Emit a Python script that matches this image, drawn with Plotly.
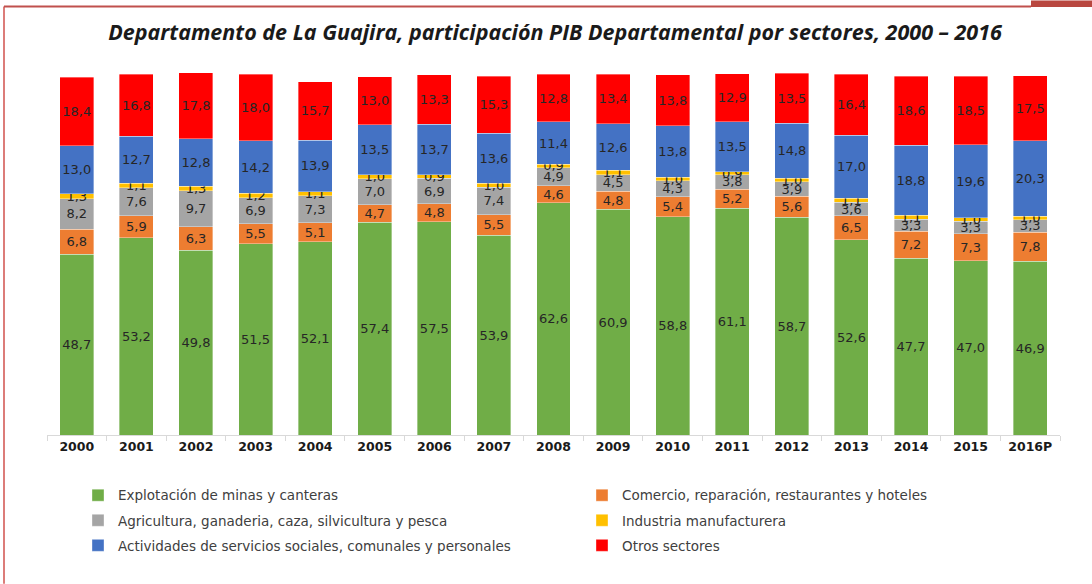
import plotly.graph_objects as go

years = ["2000", "2001", "2002", "2003", "2004", "2005", "2006", "2007", "2008",
         "2009", "2010", "2011", "2012", "2013", "2014", "2015", "2016P"]

mineria = [48.7, 53.2, 49.8, 51.5, 52.1, 57.4, 57.5, 53.9, 62.6, 60.9, 58.8, 61.1, 58.7, 52.6, 47.7, 47.0, 46.9]
comercio = [6.8, 5.9, 6.3, 5.5, 5.1, 4.7, 4.8, 5.5, 4.6, 4.8, 5.4, 5.2, 5.6, 6.5, 7.2, 7.3, 7.8]
agricultura = [8.2, 7.6, 9.7, 6.9, 7.3, 7.0, 6.9, 7.4, 4.9, 4.5, 4.3, 3.8, 3.9, 3.6, 3.3, 3.3, 3.3]
industria = [1.3, 1.1, 1.3, 1.2, 1.1, 1.0, 0.9, 1.0, 0.9, 1.1, 1.0, 0.9, 1.0, 1.1, 1.1, 1.0, 1.0]
servicios = [13.0, 12.7, 12.8, 14.2, 13.9, 13.5, 13.7, 13.6, 11.4, 12.6, 13.8, 13.5, 14.8, 17.0, 18.8, 19.6, 20.3]
otros = [18.4, 16.8, 17.8, 18.0, 15.7, 13.0, 13.3, 15.3, 12.8, 13.4, 13.8, 12.9, 13.5, 16.4, 18.6, 18.5, 17.5]

series = [
    ("Explotación de minas y canteras", mineria, "#70AD47", "legend"),
    ("Comercio, reparación, restaurantes y hoteles", comercio, "#ED7D31", "legend2"),
    ("Agricultura, ganaderia, caza, silvicultura y pesca", agricultura, "#A5A5A5", "legend"),
    ("Industria manufacturera", industria, "#FFC000", "legend2"),
    ("Actividades de servicios sociales, comunales y personales", servicios, "#4472C4", "legend"),
    ("Otros sectores", otros, "#FF0000", "legend2"),
]

W, H = 1092, 584
L, R, T, B = 47, 32, 63.5, 149
pw = W - L - R
ph = H - T - B


def px_x(p):
    return (p - L) / pw


def px_y(q):
    return (H - B - q) / ph


fig = go.Figure()
for i, (name, vals, col, leg) in enumerate(series):
    fig.add_trace(go.Bar(
        x=years, y=vals, name=name, legend=leg, legendgroup="g%d" % i,
        marker=dict(color=col, line=dict(color="rgba(255,255,255,0.6)", width=0.6)),
        texttemplate="%{y:.1f}", textposition="inside", insidetextanchor="middle",
        textangle=0, constraintext="none",
        textfont=dict(family="DejaVu Sans", size=13, color="#262626"),
    ))

shapes = [
    dict(type="line", xref="paper", yref="paper", x0=px_x(4), x1=px_x(4), y0=px_y(6), y1=px_y(584),
         line=dict(color="#D0504C", width=1.5)),
    dict(type="line", xref="paper", yref="paper", x0=px_x(4), x1=px_x(1031), y0=px_y(6), y1=px_y(6),
         line=dict(color="#C0504D", width=2)),
    dict(type="rect", xref="paper", yref="paper", x0=px_x(1031), x1=px_x(1092), y0=px_y(0), y1=px_y(6.5),
         fillcolor="#B9473F", line=dict(width=0)),
]

legend_common = dict(
    orientation="v", xanchor="left", yanchor="top",
    font=dict(family="DejaVu Sans", size=13.5, color="#404040"),
    traceorder="grouped", tracegroupgap=4.5, itemclick=False, bgcolor="rgba(0,0,0,0)",
)

fig.update_layout(
    width=W, height=H,
    margin=dict(l=L, r=R, t=T, b=B, pad=0, autoexpand=False),
    barmode="stack", bargap=0.43,
    separators=",.",
    paper_bgcolor="white", plot_bgcolor="white",
    title=dict(
        text="Departamento de La Guajira, participación PIB Departamental por sectores, 2000 – 2016",
        x=555 / W, xanchor="center", y=1 - 32 / H, yanchor="middle",
        font=dict(family="Open Sans", size=21.5, color="#1a1a1a", weight="bold", style="italic"),
    ),
    xaxis=dict(
        showline=True, linecolor="#D9D9D9", linewidth=1,
        ticks="outside", tickson="boundaries", ticklen=5, tickcolor="#D9D9D9",
        tickfont=dict(family="DejaVu Sans", size=12.5, color="#1a1a1a", weight="bold"),
        showgrid=False,
    ),
    yaxis=dict(range=[0, 100], visible=False, showgrid=False, zeroline=False),
    uniformtext=dict(minsize=13, mode="show"),
    showlegend=True,
    legend=dict(x=px_x(78), y=px_y(480), **legend_common),
    legend2=dict(x=px_x(582), y=px_y(480), **legend_common),
    shapes=shapes,
)

fig.write_html(
    "out.html",
    config={"displayModeBar": False},
    post_script="document.body.style.margin='0';document.body.style.overflow='hidden';",
)
